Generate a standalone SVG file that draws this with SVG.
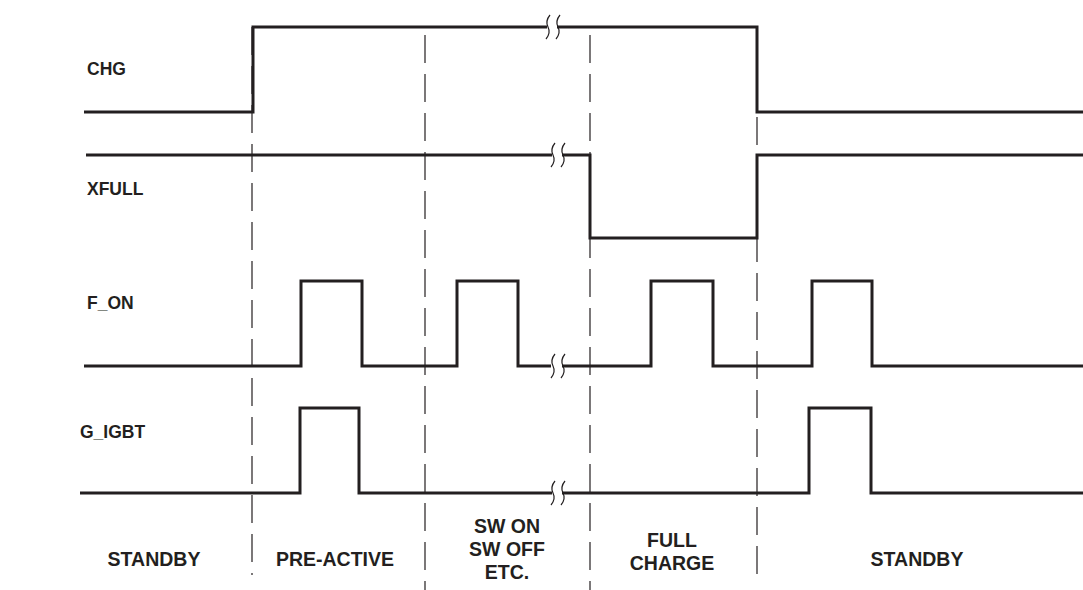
<svg xmlns="http://www.w3.org/2000/svg" width="1083" height="590" viewBox="0 0 1083 590">
<style>
.sig{fill:none;stroke:#231f20;stroke-width:3;stroke-linejoin:miter;stroke-linecap:butt}
.dash{fill:none;stroke:#231f20;stroke-width:1.2;stroke-dasharray:28 11}
.brk{fill:none;stroke:#231f20;stroke-width:1.2}
.lbl{font-family:"Liberation Sans",Arial,sans-serif;font-weight:bold;font-size:17.5px;fill:#231f20}
.ph{font-family:"Liberation Sans",Arial,sans-serif;font-weight:bold;font-size:19.5px;fill:#231f20;text-anchor:middle}
</style>
<rect width="1083" height="590" fill="#fff"/>
<g id="guides">
<path class="dash" d="M252 27V575"/>
<path class="dash" d="M425 35V590"/>
<path class="dash" d="M590 35V590"/>
<path class="dash" d="M757 117V575"/>
</g>
<g id="connectors">
<path class="sig" d="M84 112H253V27H547"/>
<path class="sig" d="M557 27H757V112H1083"/>
<path class="sig" d="M86 155H552"/>
<path class="sig" d="M562 155H590V238H757V155H1083"/>
<path class="sig" d="M84 366H301V281H362V366H457V281H518V366H551"/>
<path class="sig" d="M562 366H651V281H713V366H812V281H872V366H1083"/>
<path class="sig" d="M80 493H300V408H359V493H552"/>
<path class="sig" d="M562 493H809V408H871V493H1083"/>
</g>
<g id="breaks">
<path class="brk" d="M550 15Q545 21 548 27Q551 33 546 39"/>
<path class="brk" d="M560 15Q555 21 558 27Q561 33 556 39"/>
<path class="brk" d="M555 143Q550 149 553 155Q556 161 551 167"/>
<path class="brk" d="M565 143Q560 149 563 155Q566 161 561 167"/>
<path class="brk" d="M555 354Q550 360 553 366Q556 372 551 378"/>
<path class="brk" d="M565 354Q560 360 563 366Q566 372 561 378"/>
<path class="brk" d="M555 481Q550 487 553 493Q556 499 551 505"/>
<path class="brk" d="M565 481Q560 487 563 493Q566 499 561 505"/>
</g>
<g id="signal-labels">
<text class="lbl" x="87" y="75">CHG</text>
<text class="lbl" x="87" y="195">XFULL</text>
<text class="lbl" x="87" y="309">F_ON</text>
<text class="lbl" x="80" y="438">G_IGBT</text>
</g>
<g id="phase-labels">
<text class="ph" x="154" y="566">STANDBY</text>
<text class="ph" x="335" y="566">PRE-ACTIVE</text>
<text class="ph" x="507" y="533">SW ON</text>
<text class="ph" x="507" y="556">SW OFF</text>
<text class="ph" x="507" y="579">ETC.</text>
<text class="ph" x="672" y="547">FULL</text>
<text class="ph" x="672" y="570">CHARGE</text>
<text class="ph" x="917" y="566">STANDBY</text>
</g>
</svg>
